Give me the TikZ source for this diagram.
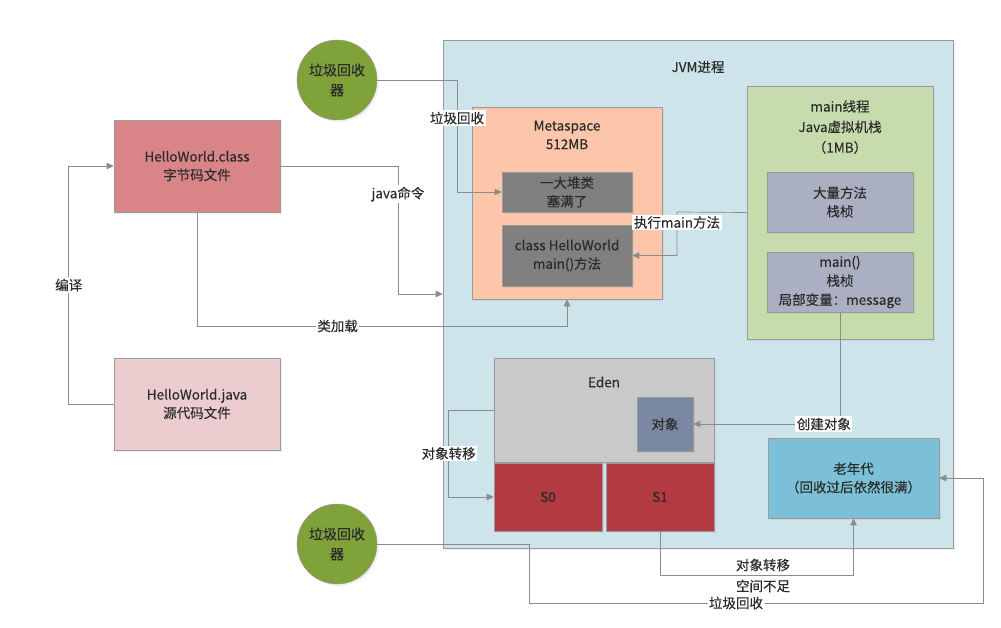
\documentclass[tikz,border=0pt]{standalone}
\usepackage{fontspec}
\setmainfont{Noto Sans CJK SC}[FakeBold=0.35]
\usetikzlibrary{arrows.meta,shadows}
\definecolor{jvmFill}{HTML}{CDE4EB}
\definecolor{gcGreen}{HTML}{7FA33A}
\definecolor{classRed}{HTML}{D98587}
\definecolor{javaPink}{HTML}{EBCDCF}
\definecolor{metaPeach}{HTML}{FDC6AA}
\definecolor{blockGray}{HTML}{808080}
\definecolor{stackGreen}{HTML}{C7DCAC}
\definecolor{frameGray}{HTML}{AAB0C2}
\definecolor{edenGray}{HTML}{C9C9C9}
\definecolor{objBlue}{HTML}{7A88A4}
\definecolor{survRed}{HTML}{B23A40}
\definecolor{oldBlue}{HTML}{7BC0D7}
\definecolor{lineGray}{HTML}{8C8C8C}
\definecolor{edgeGray}{HTML}{9A9A9A}
\definecolor{textDark}{HTML}{2B2B2B}
\newcommand{\twoLines}[2]{#1\\#2}

\begin{document}
\begin{tikzpicture}[x=1pt,y=-1pt,font=\fontsize{13.5}{18.5}\selectfont,
  box/.style={draw=edgeGray,line width=0.6pt,text=textDark,align=center,inner sep=0pt,
    drop shadow={opacity=0.12,shadow xshift=2pt,shadow yshift=-2pt}},
  gc/.style={circle,fill=gcGreen,draw=edgeGray,line width=0.5pt,minimum size=80,inner sep=0pt,
    align=center,text=textDark,font=\fontsize{14}{20}\selectfont,
    drop shadow={opacity=0.12,shadow xshift=2pt,shadow yshift=-2pt}},
  title/.style={align=center,text=textDark,inner sep=0pt},
  flow/.style={draw=lineGray,line width=0.7pt,-{Triangle[length=7pt,width=6.5pt]}},
  tag/.style={fill=white,inner sep=1.5pt,text=textDark}]
\useasboundingbox (0,0) rectangle (1001,628);

\node[box,fill=jvmFill,minimum width=510,minimum height=508] (jvm) at (698,294) {};
\node[title] (jvmTitle) at (698,67) {JVM进程};

\node[gc] (gcTop) at (337,80) {\twoLines{垃圾回收}{器}};
\node[gc] (gcBottom) at (337,544) {\twoLines{垃圾回收}{器}};

\node[box,fill=classRed,minimum width=166,minimum height=92] (classFile) at (197,166) {\twoLines{HelloWorld.class}{字节码文件}};
\node[box,fill=javaPink,minimum width=166,minimum height=92] (javaFile) at (197,404) {\twoLines{HelloWorld.java}{源代码文件}};

\node[box,fill=metaPeach,minimum width=190,minimum height=192] (meta) at (567,203) {};
\node[title] (metaTitle) at (567,135) {\twoLines{Metaspace}{512MB}};
\node[box,fill=blockGray,minimum width=130,minimum height=40] (fullClasses) at (567,192) {\twoLines{一大堆类}{塞满了}};
\node[box,fill=blockGray,minimum width=130,minimum height=61] (mainMethod) at (567,255.5) {\twoLines{class HelloWorld}{main()方法}};

\node[box,fill=stackGreen,minimum width=186,minimum height=253] (mainThread) at (840,212.5) {};
\node[title,font=\fontsize{13.5}{20.5}\selectfont] (threadTitle) at (840,127) {main线程\\Java虚拟机栈\\（1MB）};
\node[box,fill=frameGray,minimum width=146,minimum height=60] (manyFrames) at (840,202) {\twoLines{大量方法}{栈桢}};
\node[box,fill=frameGray,minimum width=146,minimum height=60,font=\fontsize{13.5}{19}\selectfont] (mainFrame) at (840,282) {main()\\栈桢\\局部变量：message};

\node[box,fill=edenGray,minimum width=220,minimum height=104] (eden) at (604,410) {};
\node[title] (edenTitle) at (604,382) {Eden};
\node[box,fill=objBlue,minimum width=56,minimum height=54] (obj) at (665,424) {对象};
\node[box,fill=survRed,minimum width=108,minimum height=68] (s0) at (548,497) {S0};
\node[box,fill=survRed,minimum width=108,minimum height=68] (s1) at (660,497) {S1};
\node[box,fill=oldBlue,minimum width=171,minimum height=80] (oldGen) at (853.5,478) {\twoLines{老年代}{（回收过后依然很满）}};

\draw[flow] (javaFile.west) -- ++(-45,0) |- (classFile.west) node[tag,pos=0.25] (compileTag) {编译};
\draw[flow] (classFile.east) -- (398,166) |- (jvm.west) node[tag,pos=0.11] (javaCmdTag) {java命令};
\draw[flow] (classFile.south) -- (197,326) -| (meta.south) node[tag,pos=0.19] (loadTag) {类加载};
\draw[flow] (gcTop.east) -- (457,80) |- (fullClasses.west) node[tag,pos=0.17] (gcTopTag) {垃圾回收};
\draw[flow] (mainThread.west) -- (677,212) |- (mainMethod.east) node[tag,pos=0.12] (runTag) {执行main方法};
\draw[flow] (mainFrame.south) |- (obj.east) node[tag,pos=0.555] (newTag) {创建对象};
\draw[flow] (eden.west) -- ++(-45,0) |- (s0.west) node[tag,pos=0.25] (moveTag) {对象转移};
\draw[flow] (s1.south) -- (660,575) -| (oldGen.south);
\node[tag] (moveOldTag) at (763,565) {对象转移};
\node[tag] (lackTag) at (763,586) {空间不足};
\draw[flow] (gcBottom.east) -- (529,544) |- (983,603) |- (oldGen.east);
\node[tag] (gcBottomTag) at (736,603) {垃圾回收};
\end{tikzpicture}
\end{document}
